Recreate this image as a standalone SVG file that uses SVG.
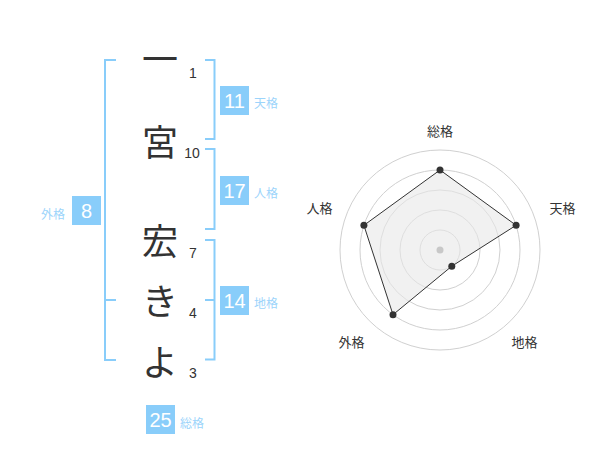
<svg xmlns="http://www.w3.org/2000/svg" width="600" height="470" viewBox="0 0 600 470">
<style>
.ch{font-family:"Noto Sans CJK JP","Noto Sans CJK SC",sans-serif;font-size:36px;fill:#333;text-anchor:middle}
.num{font-family:"Liberation Sans",Arial,sans-serif;font-size:14px;fill:#333;text-anchor:middle}
.box{fill:#89cdfa}
.bt{font-family:"Liberation Sans",Arial,sans-serif;font-size:20px;fill:#fff;text-anchor:middle}
.lb{font-family:"Noto Sans CJK JP","Noto Sans CJK SC",sans-serif;font-size:12px;fill:#9cd4fb}
.br{fill:none;stroke:#89cdfa;stroke-width:2}
.ring{fill:none;stroke:#d0d0d0;stroke-width:1}
.rl{font-family:"Noto Sans CJK JP","Noto Sans CJK SC",sans-serif;font-size:13px;fill:#333;text-anchor:middle}
.dot{fill:#333}
</style>
<rect width="600" height="470" fill="#fff"/>
<g id="connectors">
<path class="br" d="M116,60 H105 V360 H116 M105,300 H116"/>
<path class="br" d="M205,60 H214.5 V139 H205"/>
<path class="br" d="M205,149 H214.5 V229 H205"/>
<path class="br" d="M205,240 H214.5 V359.5 H205 M205,300 H214.5"/>
</g>
<g id="char1"><text class="ch" x="160" y="73">一</text><text class="num" x="193" y="78">1</text></g>
<g id="char2"><text class="ch" x="160" y="155.5">宮</text><text class="num" x="192" y="158">10</text></g>
<g id="char3"><text class="ch" x="160" y="254.5">宏</text><text class="num" x="193" y="258">7</text></g>
<g id="char4"><text class="ch" x="160" y="315">き</text><text class="num" x="193" y="318">4</text></g>
<g id="char5"><text class="ch" x="160" y="376">よ</text><text class="num" x="193" y="378">3</text></g>
<g id="tenkaku"><rect class="box" x="220" y="86" width="29" height="29"/><text class="bt" x="234.5" y="107.5">11</text><text class="lb" x="254" y="108">天格</text></g>
<g id="jinkaku"><rect class="box" x="220" y="176" width="29" height="29"/><text class="bt" x="234.5" y="197.5">17</text><text class="lb" x="254" y="198">人格</text></g>
<g id="chikaku"><rect class="box" x="220" y="286" width="29" height="29"/><text class="bt" x="234.5" y="307.5">14</text><text class="lb" x="254" y="308">地格</text></g>
<g id="gaikaku"><rect class="box" x="72" y="196" width="29" height="29"/><text class="bt" x="86.5" y="217.5">8</text><text class="lb" x="41" y="219">外格</text></g>
<g id="soukaku"><rect class="box" x="146" y="405" width="29" height="29"/><text class="bt" x="160.5" y="426.5">25</text><text class="lb" x="180" y="428">総格</text></g>
<g id="radar">
<circle class="ring" cx="440" cy="250" r="20"/>
<circle class="ring" cx="440" cy="250" r="40"/>
<circle class="ring" cx="440" cy="250" r="60"/>
<circle class="ring" cx="440" cy="250" r="80"/>
<circle class="ring" cx="440" cy="250" r="100"/>
<polygon points="440,170 516.1,225.3 451.8,266.2 393,314.7 363.9,225.3" fill="#e8e8e8" fill-opacity="0.6" stroke="#333" stroke-width="1"/>
<circle cx="440" cy="250" r="3.5" fill="#c8c8c8"/>
<circle class="dot" cx="440" cy="170" r="3.5"/>
<circle class="dot" cx="516.1" cy="225.3" r="3.5"/>
<circle class="dot" cx="451.8" cy="266.2" r="3.5"/>
<circle class="dot" cx="393" cy="314.7" r="3.5"/>
<circle class="dot" cx="363.9" cy="225.3" r="3.5"/>
<text class="rl" x="440" y="135.5">総格</text>
<text class="rl" x="562.5" y="213">天格</text>
<text class="rl" x="524.5" y="347">地格</text>
<text class="rl" x="351.5" y="347">外格</text>
<text class="rl" x="319.5" y="213">人格</text>
</g>
</svg>
